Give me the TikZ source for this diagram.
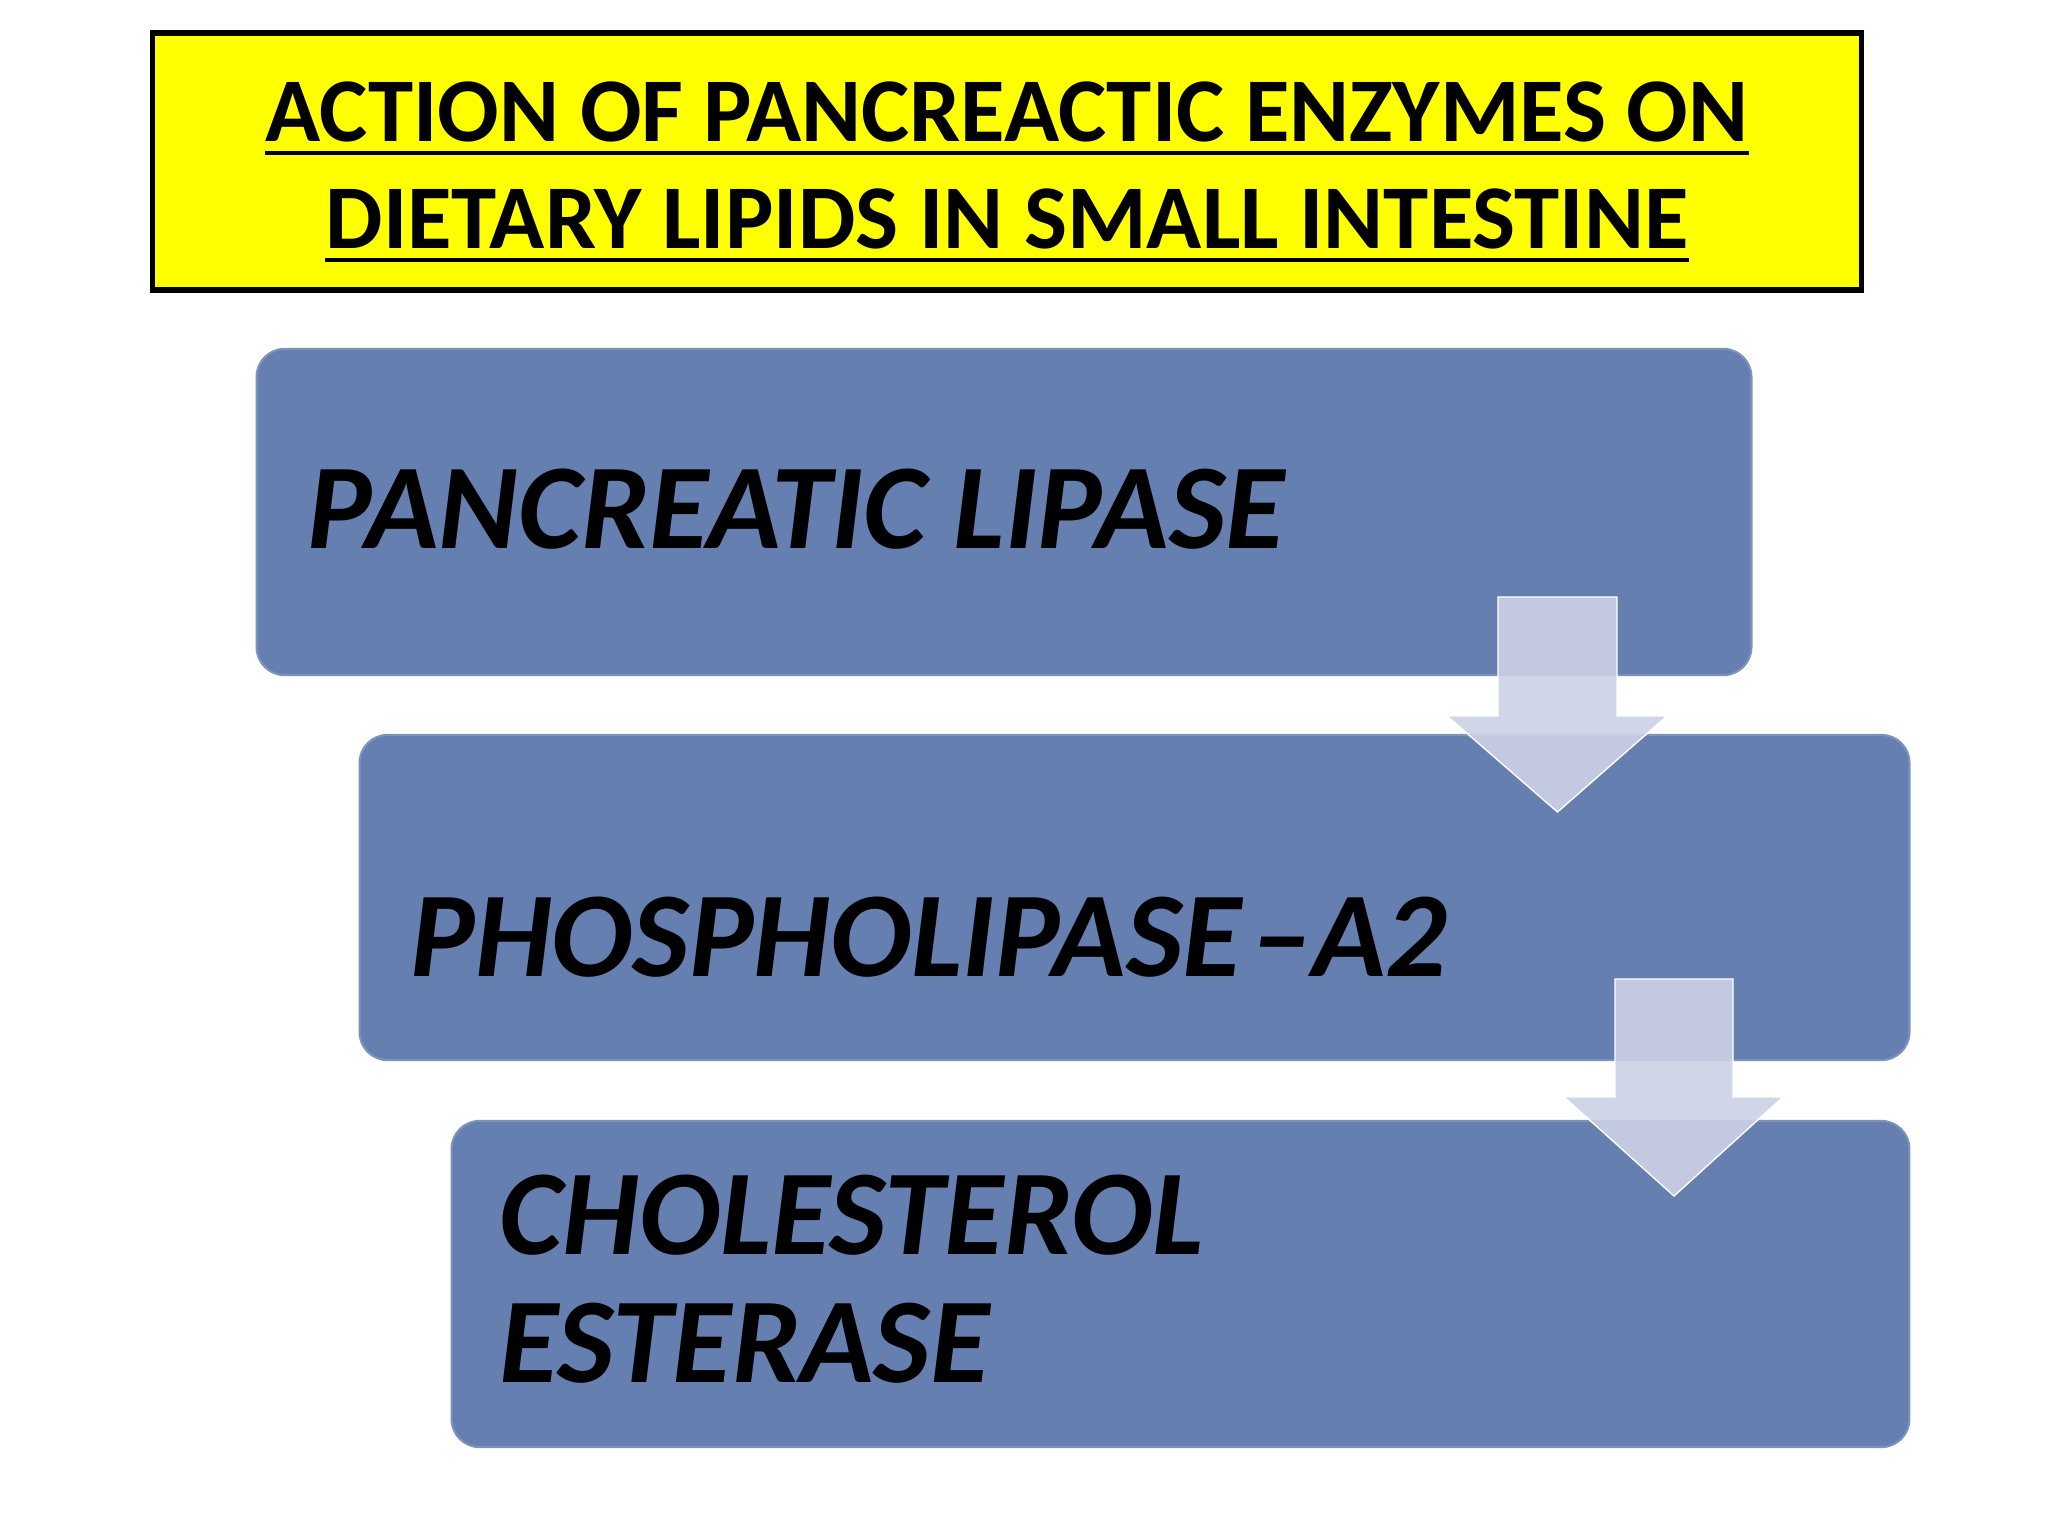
\documentclass[tikz,border=0pt]{standalone}
\usepackage{fontspec}
\setmainfont{Carlito}
\usetikzlibrary{positioning,calc}
\definecolor{boxblue}{RGB}{101,128,176}
\definecolor{arrowlav}{RGB}{205,209,230}
\definecolor{titleyellow}{RGB}{255,255,0}
\tikzstyle{titlebox}=[rectangle, draw=black, fill=titleyellow
,line width=1.6pt
,inner sep=0pt
]
\tikzstyle{titletext}=[anchor=base, inner sep=0pt, font=\fontsize{25.9}{30}\selectfont\bfseries]
\tikzstyle{enzymebox}=[rectangle, rounded corners=0.28cm, fill=boxblue
,draw=boxblue!85!white, line width=0.6pt
,inner sep=0pt
]
\tikzstyle{enzymetext}=[anchor=base west, inner sep=0pt, align=left
,font=\fontsize{34.5}{36.4}\selectfont\bfseries\itshape]
\tikzstyle{flowarrow} = [fill=arrowlav, fill opacity=0.9, draw=white, line width=0.4pt]
\tikzstyle{underl} = [draw, line width=1.4pt]

\begin{document}
\begin{tikzpicture}[x=0.01cm, y=-0.01cm]
    % page
    \fill[white] (0,0) rectangle (2048,1536);
    \useasboundingbox (0,0) rectangle (2048,1536);

    % heading
    \node[titlebox, minimum width=17.08cm, minimum height=2.57cm] (title) at (1007,161.5) {};
    \node[titletext] (head1) at (1007,141) {ACTION OF PANCREACTIC ENZYMES ON};
    \node[titletext] (head2) at (1007,248) {DIETARY LIPIDS IN SMALL INTESTINE};
    \foreach \h in {head1, head2}
        \path[underl] ($(\h.base west)+(0,12)$) -- ($(\h.base east)+(0,12)$);

    % the three enzymes
    \node[enzymebox, minimum width=14.94cm, minimum height=3.26cm] (lipase) at (1004,512) {};
    \node[enzymebox, minimum width=15.49cm, minimum height=3.25cm] (phospho) at (1134.5,897.5) {};
    \node[enzymebox, minimum width=14.57cm, minimum height=3.26cm] (esterase) at (1180.5,1284) {};

    \node[enzymetext] (lipasetxt) at (307,548) {PANCREATIC LIPASE};
    \node[enzymetext] (phosphotxt) at (410,976) {\spaceskip=0.08em PHOSPHOLIPASE –A2};
    % base of a two line node is its last line
    \node[enzymetext] (esterasetxt) at (499,1382) {CHOLESTEROL\\ESTERASE};

    % block arrows between the boxes
    \path[flowarrow] (1498,597) -- (1617,597) -- (1617,716) -- (1667,716) -- (1557.5,812)
        -- (1447,716) -- (1498,716) -- cycle;
    \path[flowarrow] (1615,979) -- (1733,979) -- (1733,1097) -- (1783,1097) -- (1674,1196)
        -- (1564,1097) -- (1615,1097) -- cycle;
\end{tikzpicture}
\end{document}
